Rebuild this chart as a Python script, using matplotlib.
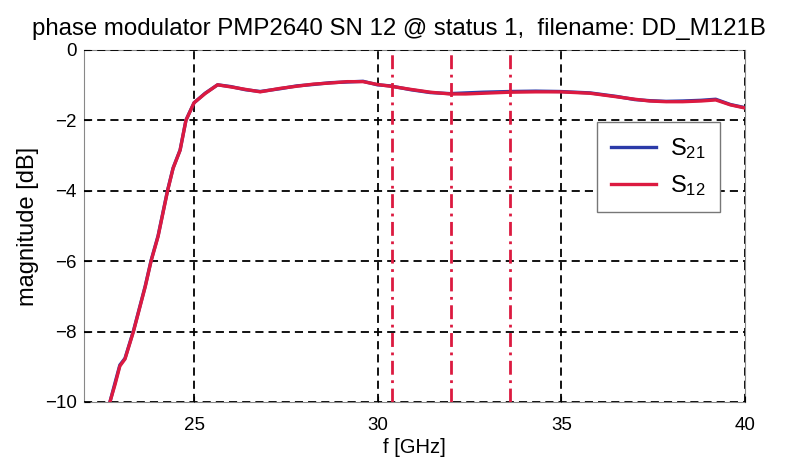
import matplotlib.pyplot as plt
import numpy as np

plt.rcParams['font.family'] = ['Liberation Sans', 'DejaVu Sans']
plt.rcParams['mathtext.fontset'] = 'custom'
plt.rcParams['mathtext.rm'] = 'Liberation Sans'
plt.rcParams['mathtext.it'] = 'Liberation Sans'

# frequency [GHz] and magnitude [dB]
freq = [22.71, 22.85, 22.98, 23.12, 23.35, 23.67, 23.83, 24.02, 24.28, 24.43,
        24.62, 24.78, 25.0, 25.3, 25.64, 26.0, 26.4, 26.8, 27.35, 27.8,
        28.25, 28.7, 29.17, 29.6, 29.99, 30.34, 30.9, 31.43, 31.97, 32.4,
        32.87, 33.6, 34.3, 34.96, 35.78, 36.5, 37.0, 37.4, 37.85, 38.3,
        38.8, 39.2, 39.6, 40.0]
s12 = [-10.0, -9.5, -8.98, -8.78, -8.0, -6.73, -6.0, -5.3, -4.0, -3.36,
       -2.85, -2.0, -1.5, -1.24, -0.99, -1.05, -1.12, -1.19, -1.09, -1.03,
       -0.97, -0.94, -0.90, -0.90, -0.98, -1.03, -1.12, -1.20, -1.25, -1.25,
       -1.23, -1.20, -1.19, -1.19, -1.23, -1.33, -1.40, -1.45, -1.47, -1.47,
       -1.45, -1.42, -1.56, -1.65]
s21 = [-10.0, -9.45, -8.95, -8.76, -7.98, -6.71, -5.98, -5.28, -3.98, -3.35,
       -2.84, -1.99, -1.5, -1.23, -0.99, -1.04, -1.13, -1.18, -1.10, -1.02,
       -0.98, -0.93, -0.91, -0.89, -0.99, -1.02, -1.13, -1.21, -1.24, -1.22,
       -1.20, -1.18, -1.17, -1.18, -1.22, -1.32, -1.41, -1.44, -1.46, -1.45,
       -1.43, -1.40, -1.55, -1.64]
markers = [30.4, 32.0, 33.6]

red = '#dc1a40'
blue = '#2b3aa8'

fig = plt.figure(figsize=(7.91, 4.70), dpi=100)
ax = fig.add_axes([0.106, 0.1447, 0.836, 0.749])

ax.plot(freq, s21, color=blue, lw=2.4, label='S$_{21}$', zorder=3)
ax.plot(freq, s12, color=red, lw=2.4, label='S$_{12}$', zorder=4)
for m in markers:
    ax.axvline(m, color=red, lw=2, ls=(0, (5, 2, 1, 2)), zorder=5)

ax.set_xlim(22, 40)
ax.set_ylim(-10, 0)
ax.set_xticks([25, 30, 35, 40])
ax.set_yticks([-10, -8, -6, -4, -2, 0])
ax.grid(True, color='black', ls=(0, (4.5, 2.8)), lw=1.3)
ax.set_axisbelow(False)
for s in ax.spines.values():
    s.set_color('#888888')
    s.set_linewidth(0.8)
ax.tick_params(direction='in', length=4, labelsize=13.5, colors='black')
ax.tick_params(axis='x', pad=11)
ax.tick_params(axis='y', pad=5)

ax.set_xlabel('f [GHz]', fontsize=14.5, labelpad=3)
ax.set_ylabel('magnitude [dB]', fontsize=17, labelpad=4)
ax.set_title('phase modulator PMP2640 SN 12 @ status 1,  filename: DD_M121B',
             fontsize=17.3, pad=10.5, x=0.476)

leg = ax.legend(loc='upper left', bbox_to_anchor=(0.776, 0.795), fontsize=17,
                fancybox=False, framealpha=1, edgecolor='#777777',
                handlelength=1.9, handletextpad=0.6, borderpad=0.6,
                labelspacing=0.5, borderaxespad=0)
leg.get_frame().set_linewidth(1.0)

fig.savefig('out.png', dpi=100)
